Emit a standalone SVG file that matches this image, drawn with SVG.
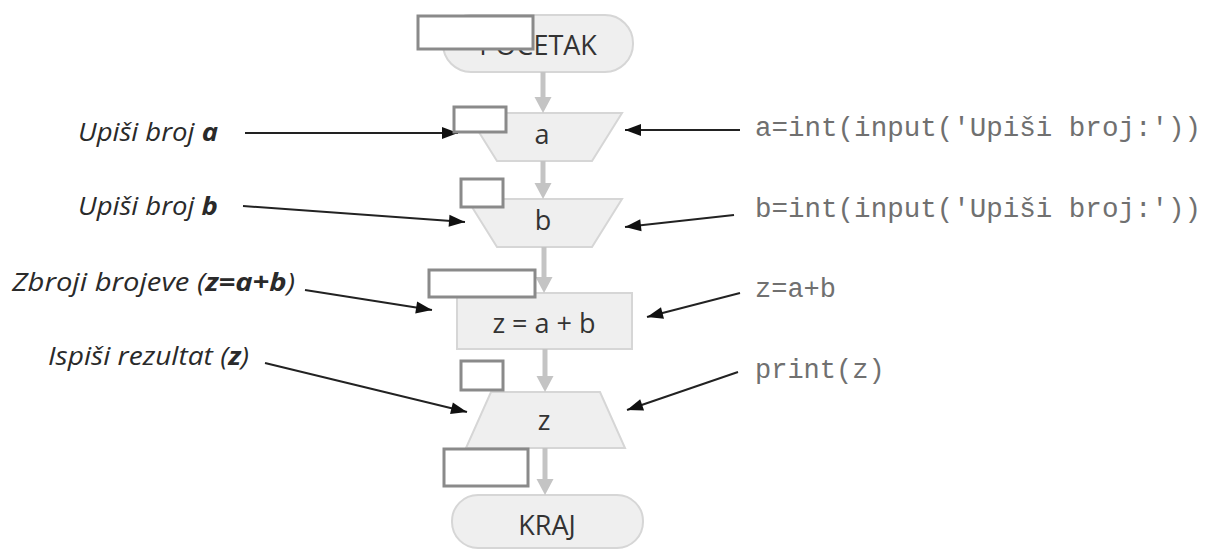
<svg xmlns="http://www.w3.org/2000/svg" width="1208" height="549" viewBox="0 0 1208 549">
<style>
.shape{fill:#efefef;stroke:#d6d6d6;stroke-width:2}
.node{font-family:"Open Sans","DejaVu Sans",sans-serif;font-size:27px;fill:#333;text-anchor:middle}
.flow{stroke:#c4c4c4;stroke-width:5;fill:none;marker-end:url(#gh)}
.ptr{stroke:#222;stroke-width:2;fill:none;marker-end:url(#bh)}
.lbl{font-family:"Open Sans","DejaVu Sans",sans-serif;font-style:italic;font-size:25px;fill:#2a2a2a}
.code{font-family:"Liberation Mono","Courier New",monospace;font-size:27px;fill:#707070}
.mask{fill:#fff;stroke:#8a8a8a;stroke-width:3}
</style>
<defs>
<marker id="gh" markerUnits="userSpaceOnUse" markerWidth="16" markerHeight="17" refX="0" refY="8.5" orient="auto" overflow="visible">
<path d="M0,0 L16,8.5 L0,17 z" fill="#c4c4c4"/>
</marker>
<marker id="bh" markerUnits="userSpaceOnUse" markerWidth="16" markerHeight="12" refX="16" refY="6" orient="auto" overflow="visible">
<path d="M0,0 L16,6 L0,12 z" fill="#111"/>
</marker>
</defs>
<rect width="1208" height="549" fill="#fff"/>

<g id="start">
<rect class="shape" x="443" y="15" width="190" height="57" rx="28"/>
<text class="node" x="538" y="55">POČETAK</text>
</g>
<g id="input-a">
<polygon class="shape" points="467,113 622,113 592,161 497,161"/>
<text class="node" x="542" y="144">a</text>
</g>
<g id="input-b">
<polygon class="shape" points="467,199 622,199 592,247 497,247"/>
<text class="node" x="543" y="230">b</text>
</g>
<g id="process">
<rect class="shape" x="457" y="293" width="175" height="56"/>
<text class="node" x="544" y="333">z = a + b</text>
</g>
<g id="output-z">
<polygon class="shape" points="491,392 600,392 625,448 466,448"/>
<text class="node" x="544" y="430">z</text>
</g>
<g id="end">
<rect class="shape" x="452" y="495" width="191" height="53" rx="26"/>
<text class="node" x="547" y="535">KRAJ</text>
</g>

<g id="connectors">
<line class="flow" x1="543" y1="72" x2="543" y2="97"/>
<line class="flow" x1="543" y1="161" x2="543" y2="183"/>
<line class="flow" x1="544" y1="247" x2="544" y2="277"/>
<line class="flow" x1="545" y1="349" x2="545" y2="376"/>
<line class="flow" x1="545" y1="448" x2="545" y2="479"/>
<line class="ptr" x1="245" y1="133" x2="458" y2="133"/>
<line class="ptr" x1="243" y1="206" x2="465" y2="222"/>
<line class="ptr" x1="305" y1="290" x2="432" y2="310"/>
<line class="ptr" x1="265" y1="363" x2="467" y2="412"/>
<line class="ptr" x1="740" y1="130" x2="625" y2="130"/>
<line class="ptr" x1="734" y1="215" x2="625" y2="227"/>
<line class="ptr" x1="740" y1="293" x2="647" y2="317"/>
<line class="ptr" x1="738" y1="372" x2="627" y2="410"/>
</g>

<g id="labels-left">
<text class="lbl" x="78" y="141" textLength="140" lengthAdjust="spacingAndGlyphs">Upiši broj <tspan font-weight="bold">a</tspan></text>
<text class="lbl" x="78" y="215" textLength="140" lengthAdjust="spacingAndGlyphs">Upiši broj <tspan font-weight="bold">b</tspan></text>
<text class="lbl" x="12" y="291" textLength="283" lengthAdjust="spacingAndGlyphs">Zbroji brojeve (<tspan font-weight="bold">z=a+b</tspan>)</text>
<text class="lbl" x="48" y="365" textLength="201" lengthAdjust="spacingAndGlyphs">Ispiši rezultat (<tspan font-weight="bold">z</tspan>)</text>
</g>
<g id="labels-right">
<text class="code" x="755" y="136" textLength="446" lengthAdjust="spacingAndGlyphs">a=int(input('Upiši broj:'))</text>
<text class="code" x="755" y="217" textLength="446" lengthAdjust="spacingAndGlyphs">b=int(input('Upiši broj:'))</text>
<text class="code" x="755" y="297">z=a+b</text>
<text class="code" x="755" y="378">print(z)</text>
</g>

<g id="masks">
<rect class="mask" x="418" y="16" width="115" height="33"/>
<rect class="mask" x="454" y="107" width="52" height="25"/>
<rect class="mask" x="461" y="179" width="42" height="28"/>
<rect class="mask" x="429" y="270" width="106" height="27"/>
<rect class="mask" x="461" y="361" width="42" height="29"/>
<rect class="mask" x="444" y="449" width="84" height="37"/>
</g>
</svg>
